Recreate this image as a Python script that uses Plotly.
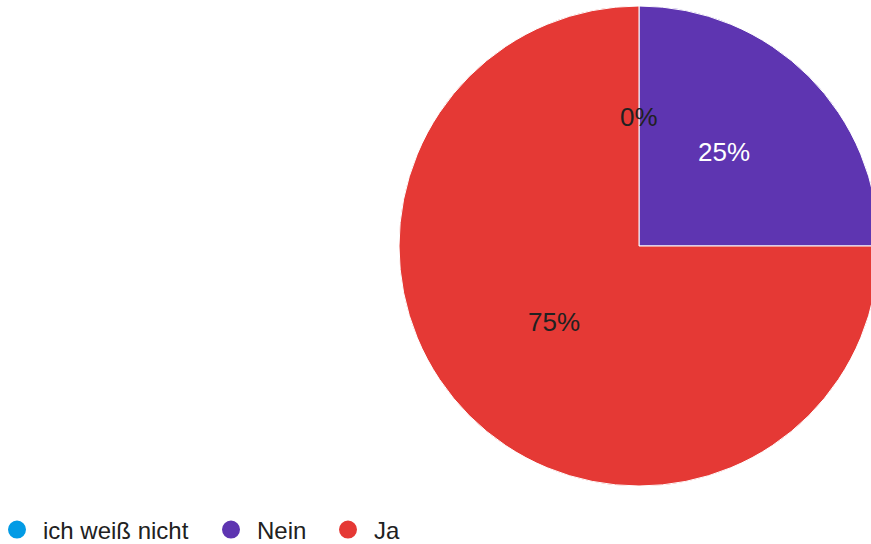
import math
import plotly.graph_objects as go

labels = ["ich weiß nicht", "Nein", "Ja"]
values = [0, 1, 3]
colors = ["#039BE5", "#5E35B1", "#E53935"]
text_colors = ["#212121", "#FFFFFF", "#212121"]

# paper size (slightly wider than the window: the pie is cut by the right edge)
W, H = 880, 544
font_family = "Liberation Sans, Arial, sans-serif"

# pie placement (paper pixels)
pie_cx, pie_cy, pie_r = 639, 246, 240
dom_x = [(pie_cx - pie_r) / W, min(1.0, (pie_cx + pie_r) / W)]
dom_y = [1 - (pie_cy + pie_r) / H, 1 - (pie_cy - pie_r) / H]

fig = go.Figure()
fig.add_trace(go.Pie(
    labels=labels,
    values=values,
    sort=False,
    direction="clockwise",
    rotation=0,
    marker=dict(colors=colors, line=dict(color="#FFFFFF", width=1)),
    textinfo="none",
    showlegend=False,
    hoverinfo="label+percent",
    domain=dict(x=dom_x, y=dom_y),
))

# percentage labels at half radius along each slice's mid-angle
total = sum(values)
cum = 0
for v, tc in zip(values, text_colors):
    theta = 2 * math.pi * (cum + v / 2) / total
    k = 0.5
    fig.add_annotation(
        xref="paper", yref="paper",
        x=(pie_cx + k * pie_r * math.sin(theta)) / W,
        y=1 - (pie_cy - k * pie_r * math.cos(theta)) / H,
        yshift=9,
        text=f"{round(100 * v / total)}%",
        showarrow=False,
        font=dict(family=font_family, size=26, color=tc),
        xanchor="center", yanchor="middle",
    )
    cum += v

# legend entries (circle markers), one legend box per entry
legend_marker_x = [17, 231, 348]  # px of marker centres
legend_ids = ["legend", "legend2", "legend3"]
for lab, col, lid in zip(labels, colors, legend_ids):
    fig.add_trace(go.Scatter(
        x=[None], y=[None], mode="markers", name=lab,
        marker=dict(symbol="circle", size=16, color=col,
                    line=dict(color=col, width=2)),
        showlegend=True, legend=lid,
    ))

leg_common = dict(
    orientation="h",
    xanchor="left",
    y=1 - 530 / H, yanchor="middle",
    font=dict(family=font_family, size=24, color="#212121"),
    itemwidth=42,
    bgcolor="rgba(0,0,0,0)",
)
legend_layout = {}
for lid, mx in zip(legend_ids, legend_marker_x):
    legend_layout[lid] = dict(leg_common, x=(mx - 26) / W)

fig.update_layout(
    width=W, height=H,
    autosize=False,
    margin=dict(l=0, r=0, t=0, b=0, autoexpand=False),
    paper_bgcolor="#FFFFFF",
    plot_bgcolor="#FFFFFF",
    font=dict(family=font_family, color="#212121"),
    xaxis=dict(visible=False),
    yaxis=dict(visible=False),
    **legend_layout,
)

fig.write_html(
    "out.html",
    config={"displayModeBar": False},
    post_script=(
        "document.documentElement.style.margin='0';"
        "document.documentElement.style.overflow='hidden';"
        "document.body.style.margin='0';"
        "document.body.style.overflow='hidden';"
    ),
)
